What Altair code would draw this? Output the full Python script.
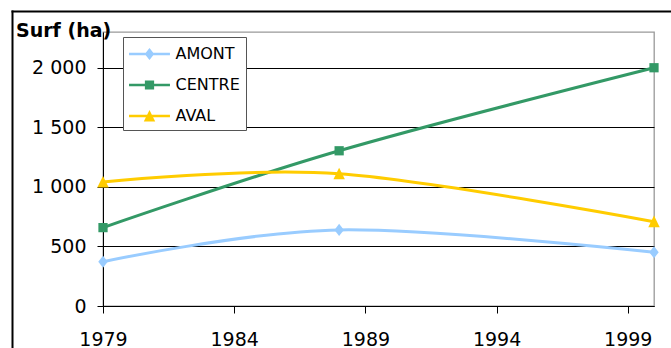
import altair as alt
import pandas as pd

# Surface (ha) per zone for the three survey years
years = [1979, 1988, 2000]
zones = ["AMONT", "CENTRE", "AVAL"]
amont = [372, 639, 451]
centre = [658, 1303, 2000]
aval = [1040, 1110, 708]
x_ticks = [1979, 1984, 1989, 1994, 1999]
y_ticks = [0, 500, 1000, 1500, 2000]

colors = ["#99CCFF", "#339966", "#FFCC00"]

rows = []
for zone, vals in zip(zones, [amont, centre, aval]):
    for yr, v in zip(years, vals):
        rows.append({"annee": yr, "surface": v, "zone": zone})
df = pd.DataFrame(rows)

# marker outlines (unit box), and the same markers with a line stub for the legend
STUB = "M-1.86,-0.12L1.86,-0.12L1.86,0.12L-1.86,0.12Z"
marker_paths = [
    "M0,-0.55L0.43,0L0,0.55L-0.43,0Z",
    "M-0.42,-0.42L0.42,-0.42L0.42,0.42L-0.42,0.42Z",
    "M0,-0.55L0.52,0.5L-0.52,0.5Z",
]
legend_paths = [STUB + " " + p for p in marker_paths]

FONT = "DejaVu Sans"

x_enc = alt.X(
    "annee:Q",
    scale=alt.Scale(domain=[1979, 2000], nice=False, zero=False),
    axis=alt.Axis(
        values=x_ticks, format="d", title=None, grid=False,
        labelFontSize=19, labelPadding=17, tickSize=7, labelFlush=False,
        labelOverlap=False,
    ),
)
y_enc = alt.Y(
    "surface:Q",
    scale=alt.Scale(domain=[0, 2300], nice=False),
    axis=alt.Axis(
        values=y_ticks, title=None, grid=True, gridColor="black", gridWidth=1,
        labelExpr="replace(format(datum.value, ','), ',', ' ')",
        labelFontSize=19, labelPadding=11, tickSize=6,
    ),
)

color_scale = alt.Scale(domain=zones, range=colors)

base = alt.Chart(df)

lines = base.mark_line(interpolate="cardinal", strokeWidth=3).encode(
    x=x_enc, y=y_enc,
    color=alt.Color("zone:N", scale=color_scale, legend=None),
)

points = base.mark_point(filled=True, size=484, opacity=1).encode(
    x=x_enc, y=y_enc,
    color=alt.Color("zone:N", scale=color_scale, legend=None),
    shape=alt.Shape("zone:N", scale=alt.Scale(domain=zones, range=marker_paths), legend=None),
)

leg = alt.Legend(
    title=None, orient="none", legendX=20, legendY=5,
    padding=6, symbolSize=484, symbolOffset=9.5, labelOffset=15,
    rowPadding=12, strokeColor="#555555", fillColor="white",
    labelFont=FONT, labelFontSize=16, labelColor="black",
    symbolStrokeWidth=0,
)

legend_layer = base.transform_filter("false").mark_point(filled=True, size=484, opacity=1).encode(
    x=x_enc, y=y_enc,
    color=alt.Color("zone:N", scale=color_scale, legend=leg),
    shape=alt.Shape("zone:N", scale=alt.Scale(domain=zones, range=legend_paths), legend=leg),
)

# outer frame of the figure (top and left edges)
single = alt.Data(values=[{"k": 0}])
frame_left = alt.Chart(single).mark_rule(color="black", strokeWidth=2).encode(
    x=alt.value(-90.5), y=alt.value(-21.5), y2=alt.value(330)
)
frame_top = alt.Chart(single).mark_rule(color="black", strokeWidth=2).encode(
    x=alt.value(-91.5), x2=alt.value(600), y=alt.value(-20.5)
)

# axis caption in the top-left corner
caption = alt.Chart(single).mark_text(
    text="Surf (ha)", align="left", baseline="alphabetic",
    font=FONT, fontSize=19, fontWeight="bold", color="black",
).encode(x=alt.value(-87), y=alt.value(5))

chart = (
    alt.layer(frame_left, frame_top, lines, points, legend_layer, caption)
    .resolve_scale(color="independent", shape="independent")
    .properties(
        width=551,
        height=274,
        padding={"left": 103, "top": 32, "right": 17, "bottom": 42},
        autosize=alt.AutoSizeParams(type="none"),
    )
    .configure_view(stroke="#999999", strokeWidth=1.3)
    .configure_axis(
        domainColor="black", tickColor="black", labelColor="black",
        labelFont=FONT, domainWidth=1, tickWidth=1,
    )
)

chart.save("out.html", embed_options={"renderer": "svg", "actions": False})
